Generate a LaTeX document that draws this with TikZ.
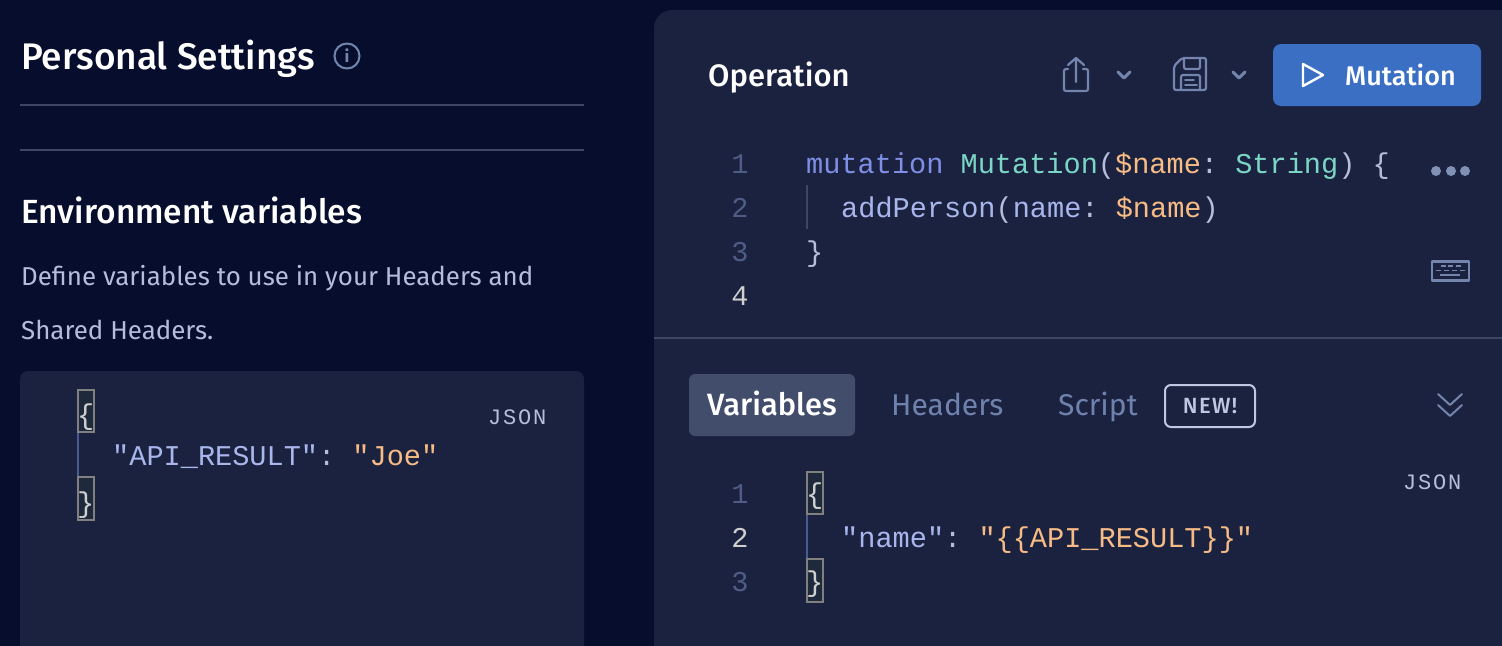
\documentclass[tikz,border=0pt]{standalone}
\usepackage{fontspec}
\setmainfont{Fira Sans}
\newfontfamily\headfont{Fira Sans Medium}
\newfontfamily\codefont{Liberation Mono}
\newfontfamily\jsonfont[LetterSpace=8]{Liberation Mono}
\newfontfamily\tagfont[LetterSpace=6]{Fira Sans Medium}
\definecolor{pagebg}{HTML}{070D2D}
\definecolor{panelbg}{HTML}{1B2240}
\definecolor{rulecol}{HTML}{3E4663}
\definecolor{iconcol}{HTML}{7385AD}
\definecolor{bluebtn}{HTML}{3A6FC4}
\definecolor{tabbg}{HTML}{424D6B}
\definecolor{mutedtxt}{HTML}{B4BEDB}
\definecolor{tabtxt}{HTML}{6F82AE}
\definecolor{numcol}{HTML}{4F5C85}
\definecolor{numlit}{HTML}{CFCFCF}
\definecolor{kwcol}{HTML}{7F8FE3}
\definecolor{typecol}{HTML}{7CD6C6}
\definecolor{argcol}{HTML}{F7BC85}
\definecolor{keycol}{HTML}{A9B6EC}
\definecolor{guidecol}{HTML}{4A5A92}
\definecolor{bracebg}{HTML}{1E2A3C}
\tikzset{title/.style={anchor=base west, inner sep=0, text=white, font=\headfont\fontsize{37}{37}\selectfont},
  subtitle/.style={title, font=\headfont\fontsize{33.5}{33.5}\selectfont},
  para/.style={anchor=base west, inner sep=0, text=mutedtxt, font=\fontsize{25.9}{25.9}\selectfont},
  tab/.style={anchor=base west, inner sep=0, text=tabtxt, font=\fontsize{30}{30}\selectfont},
  code/.style={anchor=base west, inner sep=0, text=mutedtxt, font=\codefont\fontsize{28.6}{28.6}\selectfont},
  lineno/.style={code, anchor=base, text=numcol},
  jsontag/.style={code, text=mutedtxt, font=\jsonfont\fontsize{22}{22}\selectfont},
  icon/.style={draw=iconcol, line width=2.2pt, line join=round, line cap=round},
  hrule/.style={draw=rulecol, line width=2pt},
  bracebox/.style={draw=gray, line width=2pt, fill=bracebg},
  guide/.style={draw=guidecol, line width=2pt}}

\begin{document}
\begin{tikzpicture}[x=1pt, y=-1pt]
    \useasboundingbox (0,0) rectangle (1502,645.8);
    \fill [pagebg] (-5,-5) rectangle (1510,655);
    \fill [panelbg, rounded corners=18] (654,680) rectangle (1530,10);
    \fill [panelbg, rounded corners=8] (20,680) rectangle (584,371);

    % left column
    \node [title] (settings) at (21,69) {Personal Settings};
    \node [draw=iconcol, circle, line width=2pt, minimum size=25, inner sep=0,
        text=iconcol, font=\bfseries\fontsize{17}{17}\selectfont] (info) at (347,56) {i};
    \draw [hrule] (20,105) -- (584,105);
    \draw [hrule] (20,150) -- (584,150);
    \node [subtitle] (envvars) at (21,223) {Environment variables};
    \node [para] (define) at (21,285) {Define variables to use in your Headers and};
    \node [para] (shared) at (21,339) {Shared Headers.};
    \node [jsontag] (jsonleft) at (488,424) {JSON};
    \draw [guide] (78,432) -- (78,477);
    \draw [bracebox] (78,390) rectangle (94,432);
    \draw [bracebox] (78,477) rectangle (94,520);
    \node [code, text=numlit] (bopen) at (77,424) {\{};
    \node [code] (apiresult) at (112,465)
        {\textcolor{keycol}{"API\_RESULT"}:~\textcolor{argcol}{"Joe"}};
    \node [code, text=numlit] (bclose) at (77,512) {\}};

    % operation panel
    \node [title, font=\headfont\fontsize{31}{31}\selectfont] (operation) at (708,86) {Operation};
    \draw [icon, rounded corners=2] (1068,69) -- (1064,69) -- (1064,91) -- (1088,91) -- (1088,69) -- (1083,69);
    \draw [icon] (1076,82) -- (1076,58) (1068,65) -- (1076,58) -- (1084,65);
    \foreach \chevx in {1124,1239}
        \draw [icon, line width=3pt] (\chevx-6,72) -- (\chevx,78) -- (\chevx+6,72);
    \draw [icon, rounded corners=2] (1182,58) -- (1206,58) -- (1206,90) -- (1174,90) -- (1174,66) -- cycle;
    \draw [icon, rounded corners=2] (1184,58) -- (1184,69) -- (1200,69) -- (1200,58);
    \draw [icon, rounded corners=2] (1181,90) -- (1181,75) -- (1200,75) -- (1200,90);
    \draw [icon, line width=1.6pt] (1185,80) -- (1194,80) (1185,85) -- (1197,85);
    \node [fill=bluebtn, rounded corners=8, minimum width=208, minimum height=62,
        inner sep=0] (runbtn) at (1377,75) {};
    \draw [white, line width=2.4pt, line join=round] (1303,64) -- (1323,75) -- (1303,86) -- cycle;
    \node [title, font=\headfont\fontsize{27}{27}\selectfont] (mutation) at (1345,85) {Mutation};

    \foreach \nlabel [count=\n] in {1,2,3}
        \node [lineno] (opnum-\n) at (740,129+44*\n) {\nlabel};
    \node [lineno, text=numlit] (opnum-4) at (740,305) {4};
    \draw [draw=rulecol, line width=1.5pt] (807,185) -- (807,229);
    \node [code] (opline-1) at (806,173) {\textcolor{kwcol}{mutation}~\textcolor{typecol}{Mutation}(\textcolor{argcol}{\$name}:~\textcolor{typecol}{String})~\{};
    \node [code] (opline-2) at (841,217)
        {\textcolor{keycol}{addPerson}(\textcolor{keycol}{name}:~\textcolor{argcol}{\$name})};
    \node [code] (opline-3) at (806,261) {\}};
    \foreach \dotx in {1436,1451,1465}
        \fill [iconcol!90!white] (\dotx,171) circle (5);
    \draw [icon, line width=2.2pt, line cap=butt] (1432,261.5) rectangle (1469,280.5);
    \foreach \keyx in {1443,1450,1458}
        \draw [icon, line width=1.8pt, line cap=butt] (\keyx-2.5,266) -- (\keyx+2.5,266);
    \foreach \keyx in {1438,1446,1454,1462}
        \draw [icon, line width=1.8pt, line cap=butt] (\keyx-2.5,270.5) -- (\keyx+2.5,270.5);
    \draw [icon, line width=1.8pt, line cap=butt] (1440,275) -- (1460,275);

    % variables panel
    \draw [hrule] (654,338) -- (1502,338);
    \node [fill=tabbg, rounded corners=6, minimum width=166, minimum height=62,
        inner sep=0] (vartab) at (772,405) {};
    \node [title, font=\headfont\fontsize{30.8}{30.8}\selectfont] (variables) at (707,415) {Variables};
    \node [tab] (headers) at (891,415) {Headers};
    \node [tab] (script) at (1058,415) {Script};
    \node [draw=mutedtxt!85!white, rounded corners=6, line width=2pt, minimum width=90,
        minimum height=42, inner sep=0, text=mutedtxt!85!white,
        font=\tagfont\fontsize{22}{22}\selectfont] (newtag) at (1210,406) {NEW!};
    \draw [icon, line width=2pt] (1438,394) -- (1450,405) -- (1462,394);
    \draw [icon, line width=2pt] (1438,405) -- (1450,416) -- (1462,405);
    \node [jsontag] (jsonright) at (1403,489) {JSON};
    \node [lineno] (varnum-1) at (740,503) {1};
    \node [lineno, text=numlit] (varnum-2) at (740,547) {2};
    \node [lineno] (varnum-3) at (740,591) {3};
    \draw [guide] (807,514) -- (807,559);
    \draw [bracebox] (807,472) rectangle (823,514);
    \draw [bracebox] (807,559) rectangle (823,602);
    \node [code, text=numlit] (vopen) at (806,503) {\{};
    \node [code] (nameline) at (841,547)
        {\textcolor{keycol}{"name"}:~\textcolor{argcol}{"\{\{API\_RESULT\}\}"}};
    \node [code, text=numlit] (vclose) at (806,591) {\}};
\end{tikzpicture}
\end{document}
